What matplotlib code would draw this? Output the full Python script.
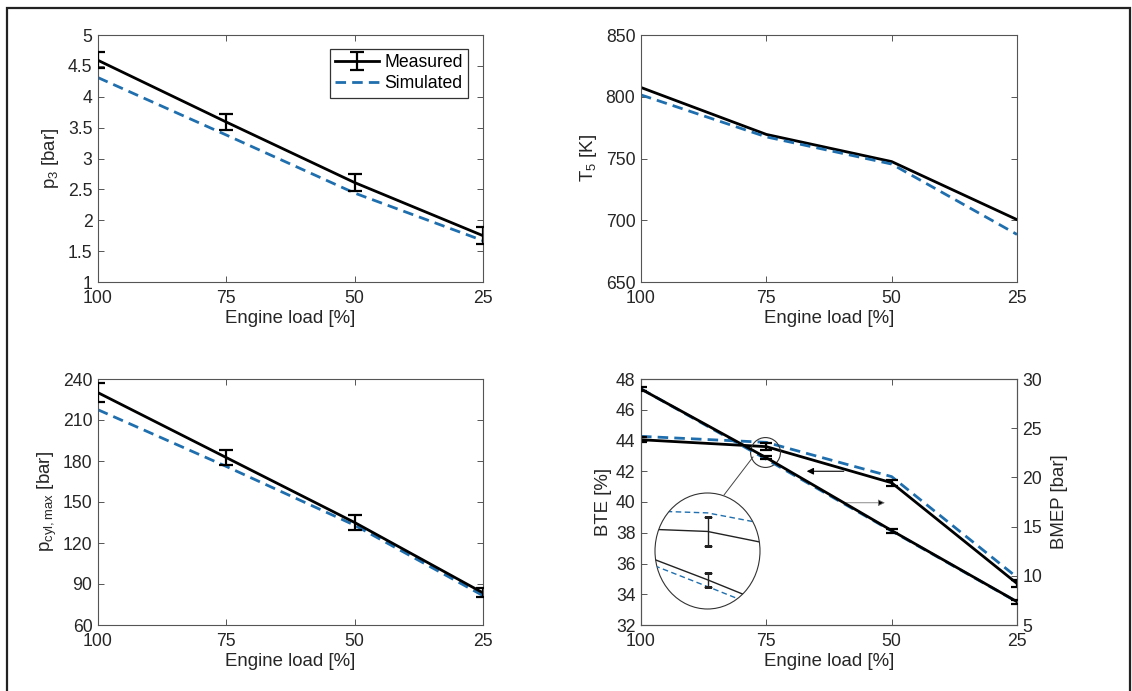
import matplotlib

matplotlib.use("Agg")
import matplotlib.pyplot as plt
from matplotlib.lines import Line2D
from matplotlib.patches import Ellipse, Rectangle

# engine load points (x axis runs from 100 down to 25)
load = [100, 75, 50, 25]

p3_meas = [4.59, 3.59, 2.61, 1.75]
p3_err = [0.13, 0.13, 0.135, 0.135]
p3_sim = [4.31, 3.38, 2.44, 1.67]

t5_meas = [807.5, 769.5, 747.5, 700.5]
t5_sim = [801.5, 767.5, 745.5, 688.5]

pcyl_meas = [230.0, 182.5, 135.0, 83.5]
pcyl_err = [7.0, 5.5, 5.5, 3.3]
pcyl_sim = [217.5, 176.0, 133.0, 81.5]

bte_meas = [44.05, 43.6, 41.25, 34.7]
bte_err = [0.15, 0.22, 0.18, 0.2]
bte_sim = [44.27, 43.88, 41.65, 35.1]

bmep_meas = [28.98, 22.0, 14.6, 7.37]
bmep_err = [0.2, 0.17, 0.2, 0.2]
bmep_sim = [29.0, 21.84, 14.55, 7.35]

BLACK = "#000000"
BLUE = "#1f6fae"
AXC = "#262626"
TICK_FS = 12.7
LABEL_FS = 13.4

plt.rcParams["font.family"] = ["Liberation Sans", "DejaVu Sans"]
plt.rcParams["font.size"] = TICK_FS
plt.rcParams["axes.edgecolor"] = "#555555"
plt.rcParams["axes.linewidth"] = 0.8

W, H = 1132, 691
fig = plt.figure(figsize=(W / 100, H / 100), dpi=100)


def box(left, top, right, bottom):
    return [left / W, 1 - bottom / H, (right - left) / W, (bottom - top) / H]


def style(ax, yticks, ylim, right=True):
    ax.set_xlim(100, 25)
    ax.set_xticks(load)
    ax.set_ylim(*ylim)
    ax.set_yticks(yticks)
    ax.tick_params(direction="in", length=4, width=0.7, color="#555555",
                   labelcolor=AXC, labelsize=TICK_FS, top=True, right=right, pad=4)
    ax.tick_params(axis="x", pad=6)
    ax.set_xlabel("Engine load [%]", fontsize=LABEL_FS, color=AXC, labelpad=2)


def meas_sim(ax, y_meas, y_err, y_sim, lw=2.0, cap=10):
    if y_err is None:
        h_meas, = ax.plot(load, y_meas, color=BLACK, lw=lw, label="Measured")
    else:
        h_meas = ax.errorbar(load, y_meas, yerr=y_err, color=BLACK, lw=lw, elinewidth=1.6,
                             capsize=cap / 2, capthick=1.6, label="Measured", zorder=3)
    h_sim, = ax.plot(load, y_sim, color=BLUE, lw=lw, ls=(0, (3.8, 2.2)), label="Simulated", zorder=2)
    return h_meas, h_sim


# top left: p3
ax1 = fig.add_axes(box(98, 35, 483, 282))
handles = meas_sim(ax1, p3_meas, p3_err, p3_sim)
style(ax1, [1, 1.5, 2, 2.5, 3, 3.5, 4, 4.5, 5], (1, 5))
ax1.set_yticklabels(["1", "1.5", "2", "2.5", "3", "3.5", "4", "4.5", "5"])
ax1.set_ylabel(r"$\mathregular{p_3}$ [bar]", fontsize=LABEL_FS, color=AXC, labelpad=5)
leg = ax1.legend(handles, ["Measured", "Simulated"], loc="upper right",
                 bbox_to_anchor=(0.962, 0.945), borderaxespad=0,
                 fancybox=False, edgecolor="#333333", framealpha=1, fontsize=TICK_FS,
                 handlelength=2.5, handletextpad=0.3, borderpad=0.3, labelspacing=0.25)
leg.get_frame().set_linewidth(0.9)

# top right: T5
ax2 = fig.add_axes(box(641, 35, 1017, 282))
meas_sim(ax2, t5_meas, None, t5_sim)
style(ax2, [650, 700, 750, 800, 850], (650, 850))
ax2.set_ylabel(r"$\mathregular{T_5}$ [K]", fontsize=LABEL_FS, color=AXC, labelpad=5)

# bottom left: peak cylinder pressure
ax3 = fig.add_axes(box(98, 379, 483, 625))
meas_sim(ax3, pcyl_meas, pcyl_err, pcyl_sim)
style(ax3, [60, 90, 120, 150, 180, 210, 240], (60, 240))
ax3.set_ylabel(r"$\mathregular{p_{cyl,max}}$ [bar]", fontsize=LABEL_FS, color=AXC, labelpad=3)

# bottom right: BTE (left) and BMEP (right)
ax4 = fig.add_axes(box(641, 379, 1017, 625))
meas_sim(ax4, bte_meas, bte_err, bte_sim, cap=8)
style(ax4, [32, 34, 36, 38, 40, 42, 44, 46, 48], (32, 48), right=False)
ax4.set_ylabel("BTE [%]", fontsize=LABEL_FS, color=AXC, labelpad=3)
ax4b = ax4.twinx()
meas_sim(ax4b, bmep_meas, bmep_err, bmep_sim, cap=8)
ax4b.set_ylim(5, 30)
ax4b.set_yticks([5, 10, 15, 20, 25, 30])
ax4b.tick_params(direction="in", length=4, width=0.7, color="#555555",
                 labelcolor=AXC, labelsize=TICK_FS, pad=4)
ax4b.set_ylabel("BMEP [bar]", fontsize=LABEL_FS, color=AXC, labelpad=6)

# arrows pointing to the relevant axis
ax4.annotate("", xy=(67.5, 42.0), xytext=(59.0, 42.0),
             arrowprops=dict(arrowstyle="-|>", color="black", lw=0.8, mutation_scale=10))
ax4.annotate("", xy=(50.8, 39.95), xytext=(59.7, 39.95),
             arrowprops=dict(arrowstyle="-|>", color="#777777", lw=0.6,
                             mutation_scale=10, fc="black", ec="#777777"))

# small circle around the 75 % point
ax4.plot([75.3], [43.25], marker="o", ms=21.5, mfc="none", mec="#333333", mew=0.8, zorder=5)

# magnified inset
ins = fig.add_axes(box(655, 493, 760, 609))
ins.patch.set_alpha(0)
ins.set_axis_off()
ins_b = ins.twinx()
ins_b.set_axis_off()
for a, ym, ye, ys, lim in [(ins, bte_meas, bte_err, bte_sim, (42.43, 44.18)),
                           (ins_b, bmep_meas, bmep_err, bmep_sim, (21.31, 24.05))]:
    a.set_xlim(76.7, 73.3)
    a.set_ylim(*lim)
    clip = Ellipse((0.5, 0.5), 1, 1, transform=a.transAxes)
    lines = a.plot(load, ym, color="#222222", lw=1.0)
    lines += a.plot(load, ys, color=BLUE, lw=1.0, ls=(0, (4, 2.5)))
    eb = a.errorbar(load, ym, yerr=ye, fmt="none", ecolor="#222222", elinewidth=1.0,
                    capsize=3, capthick=1.0)
    for art in lines + list(eb.lines[1]) + list(eb.lines[2]):
        art.set_clip_path(clip)
ins_b.add_patch(Ellipse((0.5, 0.5), 1, 1, transform=ins_b.transAxes, fill=False,
                        ec="#333333", lw=0.8, clip_on=False))

# connector from the small circle to the inset
fig.add_artist(Line2D([724 / W, 753 / W], [1 - 495 / H, 1 - 457 / H], color="#444444", lw=0.7))

# figure frame (open at the bottom)
fig.add_artist(Rectangle((7 / W, -0.02), (1130 - 7) / W, 1.02 - 8 / H, fill=False,
                         ec="#222222", lw=1.6, transform=fig.transFigure))

fig.savefig("out.png", dpi=100)
